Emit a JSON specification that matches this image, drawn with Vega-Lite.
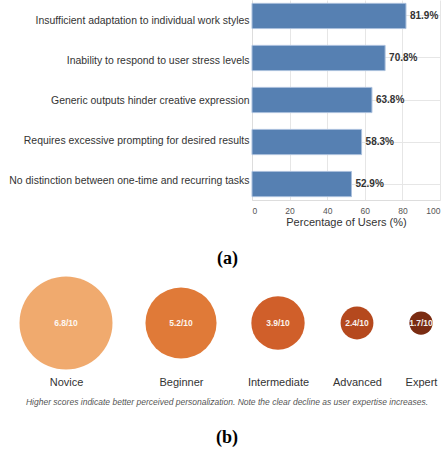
{
  "$schema": "https://vega.github.io/schema/vega-lite/v6.json",
  "padding": {"left": 8, "top": 0, "right": 0, "bottom": 0},
  "background": "white",
  "config": {"view": {"stroke": null}, "font": "Liberation Sans"},
  "datasets": {
    "issues": [
      {"issue": "Insufficient adaptation to individual work styles", "pct": 81.9},
      {"issue": "Inability to respond to user stress levels", "pct": 70.8},
      {"issue": "Generic outputs hinder creative expression", "pct": 63.8},
      {"issue": "Requires excessive prompting for desired results", "pct": 58.3},
      {"issue": "No distinction between one-time and recurring tasks", "pct": 52.9}
    ],
    "expertise": [
      {"level": "Novice", "score": 6.8},
      {"level": "Beginner", "score": 5.2},
      {"level": "Intermediate", "score": 3.9},
      {"level": "Advanced", "score": 2.4},
      {"level": "Expert", "score": 1.7}
    ]
  },
  "vconcat": [
    {
      "spacing": 2,
      "title": {"text": "(a)", "orient": "bottom", "anchor": "middle", "frame": "bounds", "font": "Liberation Serif", "fontSize": 18, "fontWeight": "bold", "color": "#000", "offset": 22, "dx": 3},
      "hconcat": [
        {
          "data": {"name": "issues"},
          "width": 240,
          "height": 200,
          "mark": {"type": "point", "opacity": 0},
          "encoding": {
            "y": {"field": "issue", "type": "nominal", "sort": null,
              "scale": {"paddingInner": 0.4, "paddingOuter": 0.08},
              "axis": {"orient": "right", "title": null, "labelAlign": "right", "labelFontSize": 10.45, "labelColor": "#333", "ticks": false, "domain": false, "grid": false, "labelPadding": 0, "labelLimit": 400}}
          }
        },
        {
          "data": {"name": "issues"},
          "width": 188,
          "height": 200,
          "transform": [{"calculate": "format(datum.pct, '.1f') + '%'", "as": "label"}],
          "encoding": {
            "y": {"field": "issue", "type": "nominal", "sort": null,
              "scale": {"paddingInner": 0.4, "paddingOuter": 0.08},
              "axis": {"title": null, "labels": false, "ticks": false, "domain": true, "domainColor": "#dddddd", "grid": true, "gridColor": "#e6e6e6"}},
            "x": {"field": "pct", "type": "quantitative", "scale": {"domain": [0, 100], "nice": false},
              "axis": {"title": "Percentage of Users (%)", "titleFontSize": 11, "titleFontWeight": "normal", "titleColor": "#333", "titlePadding": 2, "values": [0, 20, 40, 60, 80, 100], "labelFontSize": 8.5, "labelColor": "#555", "ticks": false, "domain": true, "domainColor": "#dddddd", "grid": true, "gridColor": "#e6e6e6", "labelPadding": 6}}
          },
          "layer": [
            {"mark": {"type": "bar", "color": "#5680b2", "stroke": "#a9bfdc", "strokeWidth": 1}},
            {"mark": {"type": "text", "align": "left", "dx": 4, "fontWeight": "bold", "fontSize": 10, "color": "#333"}, "encoding": {"text": {"field": "label"}}}
          ]
        }
      ]
    },
    {
      "spacing": 0,
      "title": {"text": "Higher scores indicate better perceived personalization. Note the clear decline as user expertise increases.", "subtitle": "(b)", "orient": "bottom", "anchor": "middle", "frame": "bounds", "font": "Liberation Sans", "fontSize": 8.5, "fontStyle": "italic", "fontWeight": "normal", "color": "#555", "offset": 11, "subtitleFont": "Liberation Serif", "subtitleFontSize": 18, "subtitleFontWeight": "bold", "subtitleColor": "#000", "subtitlePadding": 22},
      "hconcat": [
        {
          "width": 114, "height": 98,
          "data": {"name": "expertise"},
          "transform": [{"filter": "datum.level === 'Novice'"}, {"calculate": "format(datum.score, '.1f') + '/10'", "as": "label"}],
          "encoding": {"x": {"field": "level", "type": "nominal", "axis": {"title": null, "labelAngle": 0, "domain": false, "ticks": false, "grid": false, "labelFontSize": 11, "labelColor": "#333", "labelPadding": 4}}},
          "layer": [
            {"mark": {"type": "circle", "opacity": 1}, "encoding": {
              "size": {"field": "score", "type": "quantitative", "scale": {"type": "pow", "exponent": 2, "domain": [0, 6.8], "range": [0, 8649], "nice": false}, "legend": null},
              "color": {"field": "level", "type": "nominal", "scale": {"domain": ["Novice", "Beginner", "Intermediate", "Advanced", "Expert"], "range": ["#f0aa6e", "#e07a38", "#d05f2a", "#b5491e", "#7a2c12"]}, "legend": null}}},
            {"mark": {"type": "text", "color": "white", "opacity": 0.92, "fontWeight": "bold", "fontSize": 8.5}, "encoding": {"text": {"field": "label"}}}
          ]
        },
        {
          "width": 116, "height": 98,
          "data": {"name": "expertise"},
          "transform": [{"filter": "datum.level === 'Beginner'"}, {"calculate": "format(datum.score, '.1f') + '/10'", "as": "label"}],
          "encoding": {"x": {"field": "level", "type": "nominal", "axis": {"title": null, "labelAngle": 0, "domain": false, "ticks": false, "grid": false, "labelFontSize": 11, "labelColor": "#333", "labelPadding": 4}}},
          "layer": [
            {"mark": {"type": "circle", "opacity": 1}, "encoding": {
              "size": {"field": "score", "type": "quantitative", "scale": {"type": "pow", "exponent": 2, "domain": [0, 6.8], "range": [0, 8649], "nice": false}, "legend": null},
              "color": {"field": "level", "type": "nominal", "scale": {"domain": ["Novice", "Beginner", "Intermediate", "Advanced", "Expert"], "range": ["#f0aa6e", "#e07a38", "#d05f2a", "#b5491e", "#7a2c12"]}, "legend": null}}},
            {"mark": {"type": "text", "color": "white", "opacity": 0.92, "fontWeight": "bold", "fontSize": 8.5}, "encoding": {"text": {"field": "label"}}}
          ]
        },
        {
          "width": 78, "height": 98,
          "data": {"name": "expertise"},
          "transform": [{"filter": "datum.level === 'Intermediate'"}, {"calculate": "format(datum.score, '.1f') + '/10'", "as": "label"}],
          "encoding": {"x": {"field": "level", "type": "nominal", "axis": {"title": null, "labelAngle": 0, "domain": false, "ticks": false, "grid": false, "labelFontSize": 11, "labelColor": "#333", "labelPadding": 4}}},
          "layer": [
            {"mark": {"type": "circle", "opacity": 1}, "encoding": {
              "size": {"field": "score", "type": "quantitative", "scale": {"type": "pow", "exponent": 2, "domain": [0, 6.8], "range": [0, 8649], "nice": false}, "legend": null},
              "color": {"field": "level", "type": "nominal", "scale": {"domain": ["Novice", "Beginner", "Intermediate", "Advanced", "Expert"], "range": ["#f0aa6e", "#e07a38", "#d05f2a", "#b5491e", "#7a2c12"]}, "legend": null}}},
            {"mark": {"type": "text", "color": "white", "opacity": 0.92, "fontWeight": "bold", "fontSize": 8.5}, "encoding": {"text": {"field": "label"}}}
          ]
        },
        {
          "width": 80, "height": 98,
          "data": {"name": "expertise"},
          "transform": [{"filter": "datum.level === 'Advanced'"}, {"calculate": "format(datum.score, '.1f') + '/10'", "as": "label"}],
          "encoding": {"x": {"field": "level", "type": "nominal", "axis": {"title": null, "labelAngle": 0, "domain": false, "ticks": false, "grid": false, "labelFontSize": 11, "labelColor": "#333", "labelPadding": 4}}},
          "layer": [
            {"mark": {"type": "circle", "opacity": 1}, "encoding": {
              "size": {"field": "score", "type": "quantitative", "scale": {"type": "pow", "exponent": 2, "domain": [0, 6.8], "range": [0, 8649], "nice": false}, "legend": null},
              "color": {"field": "level", "type": "nominal", "scale": {"domain": ["Novice", "Beginner", "Intermediate", "Advanced", "Expert"], "range": ["#f0aa6e", "#e07a38", "#d05f2a", "#b5491e", "#7a2c12"]}, "legend": null}}},
            {"mark": {"type": "text", "color": "white", "opacity": 0.92, "fontWeight": "bold", "fontSize": 8.5}, "encoding": {"text": {"field": "label"}}}
          ]
        },
        {
          "width": 48, "height": 98,
          "data": {"name": "expertise"},
          "transform": [{"filter": "datum.level === 'Expert'"}, {"calculate": "format(datum.score, '.1f') + '/10'", "as": "label"}],
          "encoding": {"x": {"field": "level", "type": "nominal", "axis": {"title": null, "labelAngle": 0, "domain": false, "ticks": false, "grid": false, "labelFontSize": 11, "labelColor": "#333", "labelPadding": 4}}},
          "layer": [
            {"mark": {"type": "circle", "opacity": 1}, "encoding": {
              "size": {"field": "score", "type": "quantitative", "scale": {"type": "pow", "exponent": 2, "domain": [0, 6.8], "range": [0, 8649], "nice": false}, "legend": null},
              "color": {"field": "level", "type": "nominal", "scale": {"domain": ["Novice", "Beginner", "Intermediate", "Advanced", "Expert"], "range": ["#f0aa6e", "#e07a38", "#d05f2a", "#b5491e", "#7a2c12"]}, "legend": null}}},
            {"mark": {"type": "text", "color": "white", "opacity": 0.92, "fontWeight": "bold", "fontSize": 8.5}, "encoding": {"text": {"field": "label"}}}
          ]
        }
      ]
    }
  ],
  "spacing": 6
}
